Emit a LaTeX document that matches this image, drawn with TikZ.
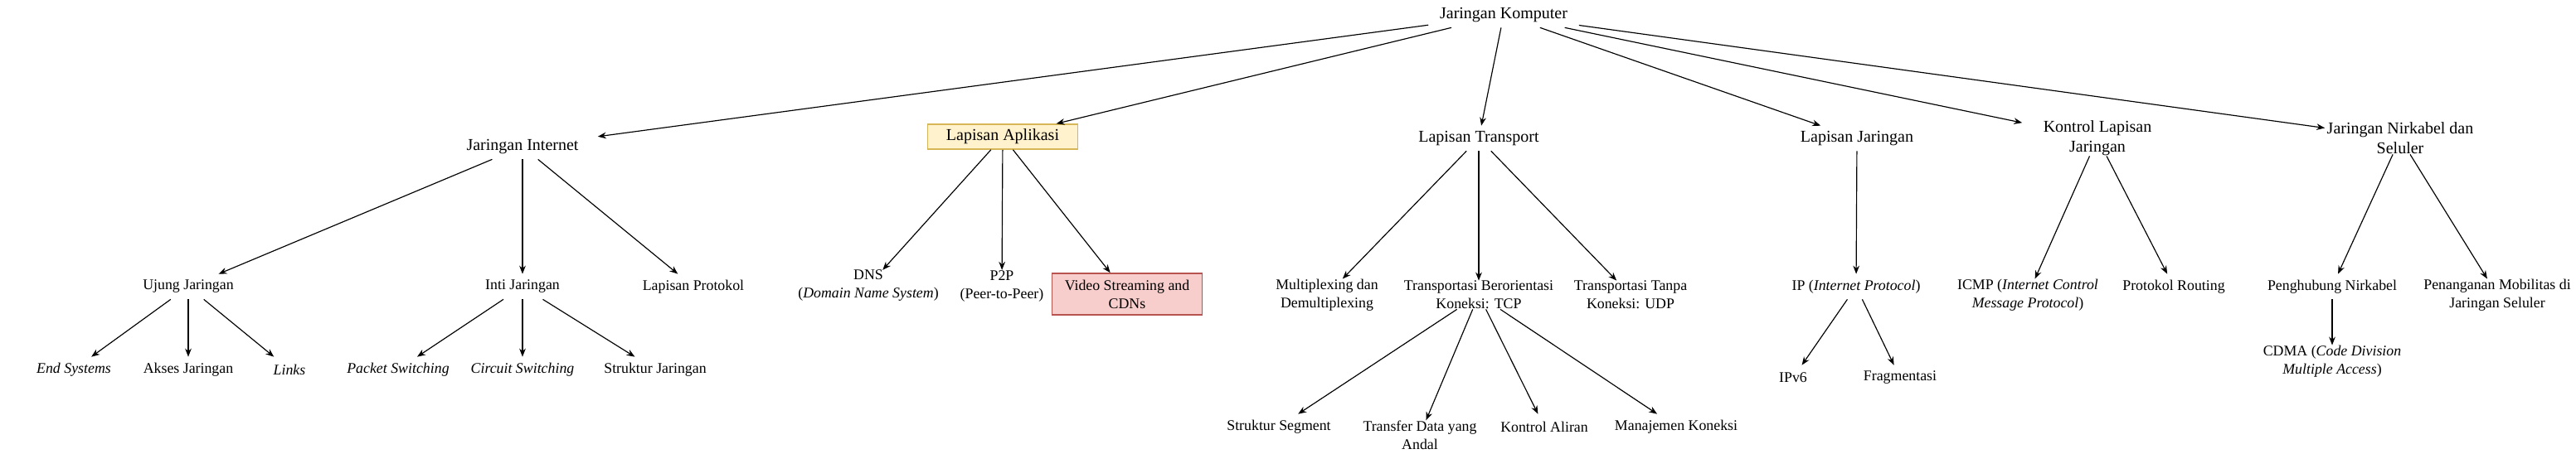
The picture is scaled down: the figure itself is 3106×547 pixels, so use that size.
\documentclass[tikz,border=0pt]{standalone}
\usepackage{fontspec}
\setmainfont{Liberation Serif}
\usetikzlibrary{arrows.meta}
\definecolor{hlfill}{HTML}{FFF2CC}
\definecolor{hldraw}{HTML}{D6B656}
\definecolor{warnfill}{HTML}{F8CECC}
\definecolor{warndraw}{HTML}{B85450}

\begin{document}
\begin{tikzpicture}[
    x=0.6pt, y=-0.6pt,
    topic/.style={align=center, inner sep=0pt, minimum width=108.6pt, minimum height=18pt, font=\fontsize{12}{14.4}\selectfont},
    sub/.style={topic, font=\fontsize{10.7}{13.2}\selectfont},
    hl/.style={topic, draw=hldraw, fill=hlfill, line width=0.9pt},
    warn/.style={sub, draw=warndraw, fill=warnfill, line width=0.9pt, minimum height=30pt},
    arrow/.style={-{Stealth[length=6pt,width=4.6pt]}, line width=0.7pt}
]
\useasboundingbox (0,0) rectangle (3106,547);
% root and first level
\node[topic] (root) at (1813,18) {Jaringan Komputer};
\node[topic] (inet) at (630,177) {Jaringan Internet};
\node[hl] (app) at (1209,165) {Lapisan Aplikasi};
\node[topic] (trans) at (1783,167) {Lapisan Transport};
\node[topic] (netl) at (2239,167) {Lapisan Jaringan};
\node[topic] (ctrl) at (2529,167) {Kontrol Lapisan\\Jaringan};
\node[topic] (wless) at (2894,167) {Jaringan Nirkabel dan\\Seluler};
% second level
\node[sub] (edge) at (227,346) {Ujung Jaringan};
\node[sub] (core) at (630,346) {Inti Jaringan};
\node[sub] (proto) at (836,346) {Lapisan Protokol};
\node[sub] (dns) at (1047,345) {DNS\\(\emph{Domain Name System})};
\node[sub] (p2p) at (1208,345) {P2P\\(Peer-to-Peer)};
\node[warn] (video) at (1359,355) {Video Streaming and\\CDNs};
\node[sub] (mux) at (1600,356) {Multiplexing dan\\Demultiplexing};
\node[sub] (tcp) at (1783,356) {Transportasi Berorientasi\\Koneksi: TCP};
\node[sub] (udp) at (1966,356) {Transportasi Tanpa\\Koneksi: UDP};
\node[sub] (ip) at (2238,346) {IP (\emph{Internet Protocol})};
\node[sub] (icmp) at (2445,356) {ICMP (\emph{Internet Control}\\\emph{Message Protocol})};
\node[sub] (routing) at (2621,346) {Protokol Routing};
\node[sub] (wlink) at (2812,346) {Penghubung Nirkabel};
\node[sub] (mobil) at (3011,356) {Penanganan Mobilitas di\\Jaringan Seluler};
% third level
\node[sub] (endsys) at (89,446) {\emph{End Systems}};
\node[sub] (access) at (227,446) {Akses Jaringan};
\node[sub] (links) at (349,446) {\emph{Links}};
\node[sub] (packet) at (480,446) {\emph{Packet Switching}};
\node[sub] (circuit) at (630,446) {\emph{Circuit Switching}};
\node[sub] (netstruct) at (790,446) {Struktur Jaringan};
\node[sub] (ipv6) at (2162,456) {IPv6};
\node[sub] (frag) at (2291,456) {Fragmentasi};
\node[sub] (cdma) at (2812,436) {CDMA (\emph{Code Division}\\\emph{Multiple Access})};
% TCP children
\node[sub] (seg) at (1542,515) {Struktur Segment};
\node[sub] (rdt) at (1712,525) {Transfer Data yang\\Andal};
\node[sub] (flow) at (1862,515) {Kontrol Aliran};
\node[sub] (conn) at (2021,515) {Manajemen Koneksi};

\draw[arrow] (root) -- (inet);
\draw[arrow] (root) -- (app);
\draw[arrow] (root) -- (trans);
\draw[arrow] (root) -- (netl);
\draw[arrow] (root) -- (ctrl);
\draw[arrow] (root) -- (wless);
\draw[arrow] (inet) -- (edge);
\draw[arrow] (inet) -- (core);
\draw[arrow] (inet) -- (proto);
\draw[arrow] (edge) -- (endsys);
\draw[arrow] (edge) -- (access);
\draw[arrow] (edge) -- (links);
\draw[arrow] (core) -- (packet);
\draw[arrow] (core) -- (circuit);
\draw[arrow] (core) -- (netstruct);
\draw[arrow] (app) -- (dns);
\draw[arrow] (app) -- (p2p);
\draw[arrow] (app) -- (video);
\draw[arrow] (trans) -- (mux);
\draw[arrow] (trans) -- (tcp);
\draw[arrow] (trans) -- (udp);
\draw[arrow] (tcp) -- (seg);
\draw[arrow] (tcp) -- (rdt);
\draw[arrow] (tcp) -- (flow);
\draw[arrow] (tcp) -- (conn);
\draw[arrow] (netl) -- (ip);
\draw[arrow] (ip) -- (ipv6);
\draw[arrow] (ip) -- (frag);
\draw[arrow] (ctrl) -- (icmp);
\draw[arrow] (ctrl) -- (routing);
\draw[arrow] (wless) -- (wlink);
\draw[arrow] (wless) -- (mobil);
\draw[arrow] (wlink) -- (cdma);
\end{tikzpicture}
\end{document}
